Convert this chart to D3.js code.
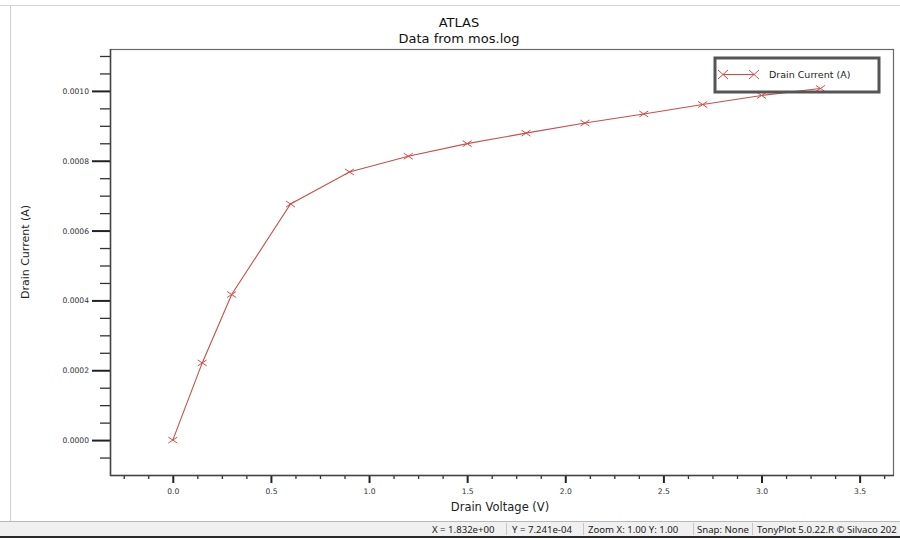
<!DOCTYPE html>
<html>
<head>
<meta charset="utf-8">
<script src="https://cdn.jsdelivr.net/npm/d3@7"></script>
<style>
  html, body { margin: 0; padding: 0; background: #fff; }
  svg { display: block; }
</style>
</head>
<body>
<svg id="chart" width="900" height="538"></svg>
<script>
// Drain sweep of the MOS device (mos.log)
const voltage = [0, 0.15, 0.3, 0.6, 0.9, 1.2, 1.5, 1.8, 2.1, 2.4, 2.7, 3.0, 3.3];
const current = [0, 0.000221, 0.000417, 0.000676, 0.000768, 0.000813, 0.000849,
                 0.000879, 0.000908, 0.000934, 0.000961, 0.000987, 0.001007];

const yMajorTicks = [0, 0.0002, 0.0004, 0.0006, 0.0008, 0.0010];
const xMajorTicks = [0, 0.5, 1.0, 1.5, 2.0, 2.5, 3.0, 3.5];

const titleLines = ["ATLAS", "Data from mos.log"];
const seriesName = "Drain Current (A)";
const xTitle = "Drain Voltage (V)";
const yTitle = "Drain Current (A)";
const statusItems = ["X = 1.832e+00", "Y = 7.241e-04", "Zoom X: 1.00 Y: 1.00", "Snap: None", "TonyPlot 5.0.22.R \u00a9 Silvaco 202"];

const svg = d3.select("#chart");
const W = 900, H = 538;
const plot = { left: 110, top: 49, right: 893, bottom: 475 };

const lineColor = "#c5504c";
const markColor = "#d84a46";
const font = "'DejaVu Sans', Verdana, sans-serif";

// window frame
svg.append("rect").attr("x", 0).attr("y", 0).attr("width", W).attr("height", H).attr("fill", "#fff");
svg.append("line").attr("x1", 0).attr("x2", W).attr("y1", 5.5).attr("y2", 5.5).attr("stroke", "#d4d4d4");
svg.append("line").attr("x1", 10.5).attr("x2", 10.5).attr("y1", 6).attr("y2", 521).attr("stroke", "#cfcfcf");

// status bar
svg.append("rect").attr("x", 0).attr("y", 521).attr("width", W).attr("height", 15).attr("fill", "#f0f0f0");
svg.append("line").attr("x1", 0).attr("x2", W).attr("y1", 521.5).attr("y2", 521.5).attr("stroke", "#b8b8b8");
svg.append("rect").attr("x", 0).attr("y", 536).attr("width", W).attr("height", 2).attr("fill", "#2a2a2a");
const statusX = [432, 512, 588, 697, 757];
const sepX = [506, 583, 693, 752];
statusItems.forEach((t, i) => {
  svg.append("text").attr("x", statusX[i]).attr("y", 533)
    .attr("font-family", "'Noto Sans', 'DejaVu Sans', sans-serif").attr("font-size", 9.6)
    .attr("fill", "#222").text(t);
});
sepX.forEach(x => {
  svg.append("line").attr("x1", x + 0.5).attr("x2", x + 0.5).attr("y1", 523).attr("y2", 535).attr("stroke", "#c8c8c8");
});

// scales
const x = d3.scaleLinear().domain([-0.32, 3.67]).range([plot.left, plot.right]);
const y = d3.scaleLinear().domain([-0.0001, 0.00112]).range([plot.bottom, plot.top]);

// minor tick positions
const xMinorTicks = d3.range(-0.25, 3.67, 0.125).filter(v => !xMajorTicks.some(m => Math.abs(m - v) < 1e-9));
const yMinorTicks = d3.range(-0.00005, 0.00112, 0.00005).filter(v => !yMajorTicks.some(m => Math.abs(m - v) < 1e-12));

// title
titleLines.forEach((t, i) => {
  svg.append("text").attr("x", 459).attr("y", 27 + i * 16).attr("text-anchor", "middle")
    .attr("font-family", font).attr("font-size", 13).attr("fill", "#111").text(t);
});

// plot frame
svg.append("rect")
  .attr("x", plot.left + 0.5).attr("y", plot.top + 0.5)
  .attr("width", plot.right - plot.left).attr("height", plot.bottom - plot.top)
  .attr("fill", "none").attr("stroke", "#6a6a6a").attr("stroke-width", 1.2);

// y axis
const yMajor = svg.append("g").attr("transform", `translate(${plot.left},0)`)
  .call(d3.axisLeft(y).tickValues(yMajorTicks).tickSize(18).tickPadding(3).tickFormat(d3.format(".4f")));
yMajor.select(".domain").remove();
yMajor.selectAll(".tick line").attr("stroke", "#222").attr("stroke-width", 2);
yMajor.selectAll(".tick text").attr("font-family", font).attr("font-size", 7.6).attr("fill", "#333");

const yMinor = svg.append("g").attr("transform", `translate(${plot.left},0)`)
  .call(d3.axisLeft(y).tickValues(yMinorTicks).tickSize(10).tickFormat(""));
yMinor.select(".domain").remove();
yMinor.selectAll(".tick line").attr("stroke", "#333").attr("stroke-width", 1.3);

// x axis
const xMajor = svg.append("g").attr("transform", `translate(0,${plot.bottom})`)
  .call(d3.axisBottom(x).tickValues(xMajorTicks).tickSize(8).tickPadding(6).tickFormat(d3.format(".1f")));
xMajor.select(".domain").remove();
xMajor.selectAll(".tick line").attr("stroke", "#222").attr("stroke-width", 2);
xMajor.selectAll(".tick text").attr("font-family", font).attr("font-size", 7.6).attr("fill", "#333");

const xMinor = svg.append("g").attr("transform", `translate(0,${plot.bottom})`)
  .call(d3.axisBottom(x).tickValues(xMinorTicks).tickSize(4).tickFormat(""));
xMinor.select(".domain").remove();
xMinor.selectAll(".tick line").attr("stroke", "#333").attr("stroke-width", 1.3);

// heavier axis lines on the left and bottom
svg.append("line").attr("x1", plot.left + 0.5).attr("x2", plot.left + 0.5)
  .attr("y1", plot.top).attr("y2", plot.bottom + 1).attr("stroke", "#444").attr("stroke-width", 1.5);
svg.append("line").attr("x1", plot.left).attr("x2", plot.right + 1)
  .attr("y1", plot.bottom + 0.5).attr("y2", plot.bottom + 0.5).attr("stroke", "#444").attr("stroke-width", 1.5);

// axis titles
svg.append("text").attr("x", 500).attr("y", 511).attr("text-anchor", "middle")
  .attr("font-family", font).attr("font-size", 11.5).attr("fill", "#222").text(xTitle);
svg.append("text").attr("transform", "translate(29,252) rotate(-90)").attr("text-anchor", "middle")
  .attr("font-family", font).attr("font-size", 11).attr("fill", "#222").text(yTitle);

// series
const data = voltage.map((v, i) => ({ v, c: current[i] }));
svg.append("path").datum(data)
  .attr("fill", "none").attr("stroke", lineColor).attr("stroke-width", 1.1)
  .attr("d", d3.line().x(d => x(d.v)).y(d => y(d.c)));

function cross(g, cx, cy, hw, hh) {
  g.append("path")
    .attr("d", `M${cx - hw},${cy - hh}L${cx + hw},${cy + hh}M${cx - hw},${cy + hh}L${cx + hw},${cy - hh}`)
    .attr("stroke", markColor).attr("stroke-width", 1).attr("fill", "none");
}
const marks = svg.append("g");
data.forEach(d => cross(marks, x(d.v), y(d.c), 4.5, 3));

// legend (drawn over the series, no fill)
const lg = svg.append("g");
lg.append("rect").attr("x", 715).attr("y", 58).attr("width", 164).attr("height", 34)
  .attr("fill", "none").attr("stroke", "#555").attr("stroke-width", 3);
lg.append("line").attr("x1", 723).attr("x2", 754).attr("y1", 74.5).attr("y2", 74.5)
  .attr("stroke", lineColor).attr("stroke-width", 1.1);
cross(lg, 723, 74.5, 5, 4.5);
cross(lg, 754, 74.5, 5, 4.5);
lg.append("text").attr("x", 769).attr("y", 78).attr("font-family", font).attr("font-size", 9.5)
  .attr("fill", "#222").text(seriesName);
</script>
</body>
</html>
